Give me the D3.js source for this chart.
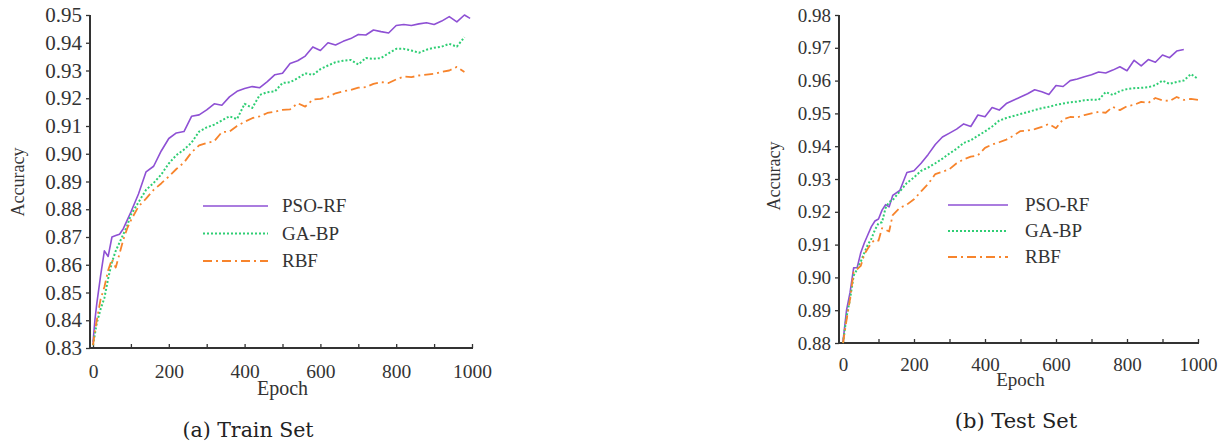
<!DOCTYPE html>
<html>
<head>
<meta charset="utf-8">
<script src="https://cdn.jsdelivr.net/npm/d3@7"></script>
<style>
  body { margin: 0; background: #fff; }
  svg { display: block; }
  text { font-family: "Liberation Serif", "Times New Roman", serif; fill: #333; }
  .caption { font-family: "DejaVu Serif", serif; fill: #222; }
</style>
</head>
<body>
<svg id="chart" width="1226" height="445"></svg>
<script>
// Series names and legend
const seriesNames = ['PSO-RF', 'GA-BP', 'RBF'];

// Train set (a): epochs and accuracy per model
const trainEpochs = [0, 5, 10, 20, 30, 40, 50, 60, 70, 80, 90, 100,
  120, 140, 160, 180, 200, 220, 240, 260, 280, 300, 320, 340, 360, 380, 400,
  420, 440, 460, 480, 500, 520, 540, 560, 580, 600, 620, 640, 660, 680, 700,
  720, 740, 760, 780, 800, 820, 840, 860, 880, 900, 920, 940, 960, 980, 995];
const trainPSO = [0.832, 0.840, 0.846, 0.856, 0.865, 0.863, 0.870, 0.8705, 0.871, 0.873, 0.876, 0.879,
  0.8855, 0.8935, 0.8955, 0.901, 0.9055, 0.9075, 0.908, 0.9135, 0.914, 0.9158, 0.918, 0.9175, 0.9205, 0.9225, 0.9235,
  0.9242, 0.9238, 0.926, 0.9285, 0.929, 0.9325, 0.9335, 0.9352, 0.9385, 0.9372, 0.940, 0.9392, 0.9405, 0.9415, 0.943,
  0.9428, 0.9446, 0.944, 0.9435, 0.9462, 0.9466, 0.9462, 0.9468, 0.9472, 0.9466, 0.9478, 0.9494, 0.9475, 0.950, 0.9488];
const trainGA = [0.831, 0.835, 0.839, 0.844, 0.848, 0.855, 0.861, 0.865, 0.868, 0.871, 0.874, 0.878,
  0.8825, 0.887, 0.8895, 0.8925, 0.8965, 0.8995, 0.9015, 0.904, 0.908, 0.9095, 0.9105, 0.912, 0.9135, 0.9125, 0.918,
  0.9165, 0.9212, 0.9222, 0.9225, 0.9255, 0.9258, 0.9272, 0.929, 0.9284, 0.9305, 0.9318, 0.933, 0.9335, 0.9338, 0.9322,
  0.9345, 0.9342, 0.9345, 0.9362, 0.9378, 0.9378, 0.9372, 0.9364, 0.9375, 0.9382, 0.9386, 0.9396, 0.9386, 0.942];
const trainRBF = [0.831, 0.836, 0.840, 0.8475, 0.852, 0.858, 0.862, 0.859, 0.864, 0.869, 0.873, 0.876,
  0.881, 0.8838, 0.887, 0.8893, 0.8918, 0.8945, 0.8968, 0.9005, 0.903, 0.9039, 0.9045, 0.9078, 0.908, 0.910, 0.9115,
  0.9128, 0.9135, 0.9147, 0.9152, 0.9158, 0.916, 0.9182, 0.917, 0.9195, 0.9198, 0.9205, 0.9218, 0.9225, 0.923, 0.9238,
  0.924, 0.9252, 0.9258, 0.9255, 0.9268, 0.9278, 0.9276, 0.9282, 0.9285, 0.9288, 0.9295, 0.930, 0.9313, 0.9295];

// Test set (b)
const testEpochs = [0, 10, 20, 30, 40, 50, 60, 70, 80, 90, 100, 110, 120, 130, 140,
  160, 180, 200, 220, 240, 260, 280, 300, 320, 340, 360, 380, 400, 420, 440,
  460, 480, 500, 520, 540, 560, 580, 600, 620, 640, 660, 680, 700, 720, 740,
  760, 780, 800, 820, 840, 860, 880, 900, 920, 940, 960, 980, 1000];
const testPSO = [0.8804, 0.890, 0.8955, 0.9029, 0.903, 0.9075, 0.9105, 0.913, 0.9155, 0.9172, 0.9178, 0.9205, 0.9222, 0.9215, 0.925,
  0.9265, 0.932, 0.9325, 0.9348, 0.9375, 0.9405, 0.9428, 0.944, 0.9452, 0.9468, 0.946, 0.9495, 0.949, 0.9518, 0.951,
  0.953, 0.954, 0.955, 0.956, 0.9572, 0.9566, 0.9558, 0.9585, 0.9582, 0.960, 0.9605, 0.9612, 0.9618, 0.9626, 0.9623,
  0.9632, 0.9642, 0.963, 0.9662, 0.9645, 0.9664, 0.9656, 0.9678, 0.967, 0.969, 0.9695];
const testGA = [0.880, 0.888, 0.8935, 0.9005, 0.9025, 0.9048, 0.9075, 0.910, 0.9118, 0.9145, 0.9165, 0.9168, 0.9212, 0.923, 0.9236,
  0.9262, 0.9288, 0.9305, 0.9325, 0.9335, 0.9348, 0.9362, 0.9378, 0.9392, 0.941, 0.9418, 0.9432, 0.9445, 0.946, 0.9478,
  0.9486, 0.9492, 0.9498, 0.9504, 0.951, 0.9516, 0.952, 0.9526, 0.953, 0.9534, 0.9536, 0.954, 0.9542, 0.9541, 0.9565,
  0.9556, 0.9568, 0.9574, 0.9577, 0.9578, 0.958, 0.9586, 0.960, 0.959, 0.9596, 0.960, 0.962, 0.9605];
const testRBF = [0.880, 0.887, 0.8935, 0.9016, 0.9025, 0.9035, 0.907, 0.9088, 0.9105, 0.9115, 0.9112, 0.915, 0.9145, 0.914, 0.919,
  0.9212, 0.9222, 0.9238, 0.9262, 0.9285, 0.9315, 0.9322, 0.933, 0.9348, 0.936, 0.9368, 0.9372, 0.9395, 0.9405, 0.9412,
  0.942, 0.9432, 0.9446, 0.9448, 0.9452, 0.9459, 0.9468, 0.9455, 0.9482, 0.9489, 0.9488, 0.9495, 0.950, 0.9505, 0.9502,
  0.952, 0.951, 0.9522, 0.9526, 0.9535, 0.9532, 0.9547, 0.954, 0.9538, 0.955, 0.9541, 0.9544, 0.9541];

// Axis ticks
const xTicks = [0, 100, 200, 300, 400, 500, 600, 700, 800, 900, 1000];
const trainYTicks = [0.83, 0.84, 0.85, 0.86, 0.87, 0.88, 0.89, 0.90, 0.91, 0.92, 0.93, 0.94, 0.95];
const testYTicks = [0.88, 0.89, 0.90, 0.91, 0.92, 0.93, 0.94, 0.95, 0.96, 0.97, 0.98];

const colours = ['#8e50d4', '#2fce74', '#f7842c'];
const dashes = [null, '2,2', '9,4,2,4'];
const widths = [1.6, 2, 1.8];

const svg = d3.select('#chart');
svg.append('rect').attr('width', 1226).attr('height', 445).attr('fill', '#fff');

function panel(cfg) {
  const x = d3.scaleLinear().domain([0, 1000]).range(cfg.xRange);
  const y = d3.scaleLinear().domain(cfg.yDomain).range(cfg.yRange);
  const g = svg.append('g');

  // Axes
  const yAxis = g.append('g')
    .attr('transform', `translate(${cfg.axisX},0)`)
    .call(d3.axisLeft(y).tickValues(cfg.yTicks).tickSize(4).tickPadding(4)
      .tickFormat(d3.format('.2f')));
  yAxis.selectAll('text').style('font-size', cfg.yFont + 'px');

  const xAxis = g.append('g')
    .attr('transform', `translate(0,${cfg.yRange[0]})`)
    .call(d3.axisBottom(x).tickValues(xTicks).tickSize(-4).tickPadding(cfg.xPad)
      .tickFormat(d => d % 200 === 0 ? d : ''));
  xAxis.selectAll('text').style('font-size', cfg.xFont + 'px');

  g.selectAll('.domain').remove();
  g.selectAll('.tick line').attr('stroke', '#333').attr('stroke-width', 1.3);
  g.append('line')
    .attr('x1', cfg.axisX).attr('x2', cfg.axisX)
    .attr('y1', cfg.yRange[1]).attr('y2', cfg.yRange[0] + 1)
    .attr('stroke', '#333').attr('stroke-width', 2);
  g.append('line')
    .attr('x1', cfg.axisX - 1).attr('x2', x(1000) + 1)
    .attr('y1', cfg.yRange[0]).attr('y2', cfg.yRange[0])
    .attr('stroke', '#333').attr('stroke-width', 2);

  // Lines
  const line = d3.line()
    .x(d => x(d[0]))
    .y(d => y(d[1]));
  cfg.series.forEach((vals, i) => {
    const pts = vals.map((v, k) => [cfg.epochs[k], v]);
    g.append('path')
      .datum(pts)
      .attr('d', line)
      .attr('fill', 'none')
      .attr('stroke', colours[i])
      .attr('stroke-width', widths[i])
      .attr('stroke-linejoin', 'round')
      .attr('stroke-dasharray', dashes[i]);
  });

  // Legend
  seriesNames.forEach((name, i) => {
    const ly = cfg.legendY + i * cfg.legendStep;
    g.append('line')
      .attr('x1', cfg.legendX).attr('x2', cfg.legendX + cfg.legendLen)
      .attr('y1', ly).attr('y2', ly)
      .attr('stroke', colours[i])
      .attr('stroke-width', widths[i])
      .attr('stroke-dasharray', dashes[i]);
    g.append('text')
      .attr('x', cfg.legendTextX).attr('y', ly + 6)
      .style('font-size', '19px')
      .text(name);
  });

  // Axis titles
  g.append('text')
    .attr('transform', `translate(${cfg.accX},${cfg.accY}) rotate(-90)`)
    .attr('text-anchor', 'middle')
    .style('font-size', '18px')
    .text('Accuracy');
  g.append('text')
    .attr('x', (x(0) + x(1000)) / 2).attr('y', cfg.epochY)
    .attr('text-anchor', 'middle')
    .style('font-size', cfg.epochFont + 'px')
    .text('Epoch');

  // Caption
  g.append('text')
    .attr('class', 'caption')
    .attr('x', cfg.capX).attr('y', cfg.capY)
    .attr('text-anchor', 'middle')
    .style('font-size', cfg.capFont + 'px')
    .text(cfg.caption);
}

panel({
  epochs: trainEpochs, series: [trainPSO, trainGA, trainRBF],
  xRange: [93, 472], yDomain: [0.83, 0.95], yRange: [348, 15], yTicks: trainYTicks,
  axisX: 90, yFont: 21, xFont: 19.5, xPad: 16,
  legendX: 203, legendLen: 65, legendTextX: 282, legendY: 206, legendStep: 27.5,
  accX: 24, accY: 182, epochY: 395, epochFont: 20,
  capX: 248, capY: 437, capFont: 20.5, caption: '(a) Train Set'
});

panel({
  epochs: testEpochs, series: [testPSO, testGA, testRBF],
  xRange: [843, 1198], yDomain: [0.88, 0.98], yRange: [343, 15], yTicks: testYTicks,
  axisX: 839, yFont: 19, xFont: 19, xPad: 15,
  legendX: 948, legendLen: 60, legendTextX: 1025, legendY: 205, legendStep: 26,
  accX: 780, accY: 176, epochY: 386, epochFont: 19,
  capX: 1016, capY: 428, capFont: 21, caption: '(b) Test Set'
});
</script>
</body>
</html>
